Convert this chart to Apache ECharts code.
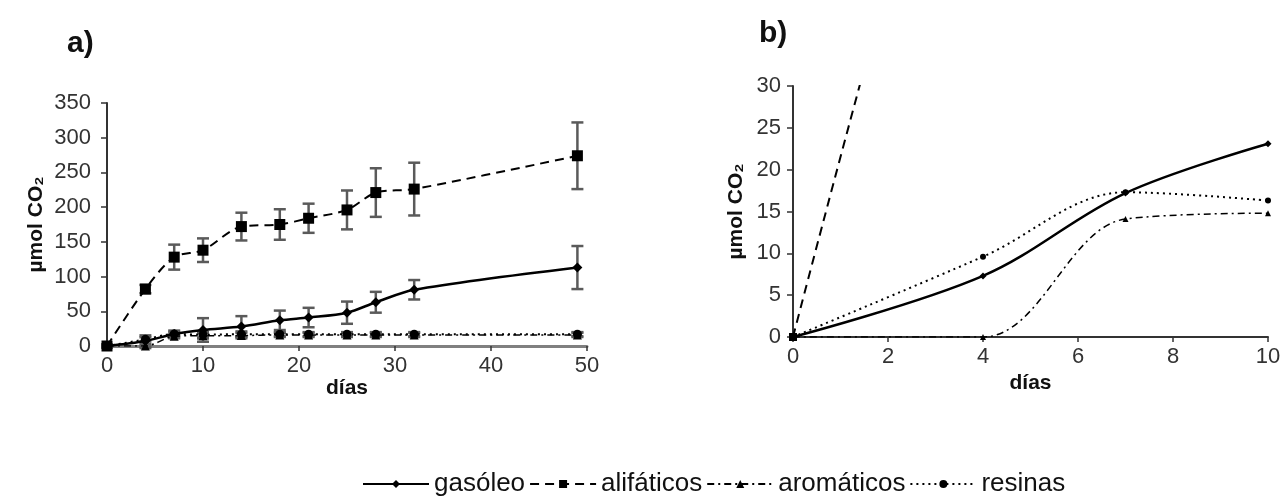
<!DOCTYPE html>
<html>
<head>
<meta charset="utf-8">
<script src="https://cdn.jsdelivr.net/npm/echarts@6/dist/echarts.min.js"></script>
<style>
html,body{margin:0;padding:0;background:#fff}
#main{width:1284px;height:496px}
</style>
</head>
<body>
<div id="main"></div>
<script>
// days sampled, panel a
const diasA = [0, 4, 7, 10, 14, 18, 21, 25, 28, 32, 49]
const gasoleoA = [0, 7.3, 17.2, 23.1, 28, 37, 41, 48, 63, 81, 113]
const gasoleoErr = [2, 8, 5, 17, 15, 14, 14, 16, 15, 14, 31]
const alifaticosA = [0, 82, 128, 138, 172, 175, 184, 196, 221, 226, 274]
const alifaticosErr = [2, 6, 18, 17, 20, 22, 21, 28, 35, 38, 48]
const aromaticosA = [0, 0, 14.1, 14.8, 15, 16, 16, 16, 16, 16, 16]
const aromaticosErr = [0, 3, 3, 4, 4, 3, 3, 3, 3, 3, 3]
const resinasA = [0, 9.6, 17.3, 16.3, 17, 17, 17, 17, 17, 17, 17]
const resinasErr = [0, 3, 3, 4, 4, 3, 3, 3, 3, 3, 3]

// panel b, first 10 days
const diasB = [0, 4, 7, 10]
const gasoleoB = [0, 7.3, 17.2, 23.1]
const alifaticosB = [0, 82, 128, 138]
const aromaticosB = [0, 0, 14.1, 14.8]
const resinasB = [0, 9.6, 17.3, 16.3]

const nombres = ['gasóleo', 'alifáticos', 'aromáticos', 'resinas']

function pares(x, y){
	const out = []
	for(let i = 0 ; i < x.length ; i ++){
		out.push([x[i], y[i]])
	}
	return out
}

function barras(x, y, e){
	const out = []
	for(let i = 0 ; i < x.length ; i ++){
		if(e[i] > 0) out.push([x[i], y[i] - e[i], y[i] + e[i]])
	}
	return out
}

function errorItem(params, api){
	const x = api.value(0)
	const lo = api.coord([x, api.value(1)])
	const hi = api.coord([x, api.value(2)])
	const w = 6
	const st = {stroke:'#5a5a5a', lineWidth:2.5}
	return {
		type:'group',
		children:[
			{type:'line', shape:{x1:lo[0], y1:lo[1], x2:hi[0], y2:hi[1]}, style:st},
			{type:'line', shape:{x1:lo[0] - w, y1:lo[1], x2:lo[0] + w, y2:lo[1]}, style:st},
			{type:'line', shape:{x1:hi[0] - w, y1:hi[1], x2:hi[0] + w, y2:hi[1]}, style:st}
		]
	}
}

const estilos = [
	{type:'solid', symbol:'diamond', size:10, width:2.5},
	{type:[9, 6], symbol:'rect', size:11, width:2},
	{type:[7, 4, 2, 4], symbol:'triangle', size:9, width:1.5},
	{type:[2, 4], symbol:'circle', size:9, width:2}
]

const datosA = [gasoleoA, alifaticosA, aromaticosA, resinasA]
const erroresA = [gasoleoErr, alifaticosErr, aromaticosErr, resinasErr]
const datosB = [gasoleoB, alifaticosB, aromaticosB, resinasB]

const series = []
for(let i = 0 ; i < 4 ; i ++){
	series.push({
		type:'custom',
		xAxisIndex:0,
		yAxisIndex:0,
		renderItem:errorItem,
		data:barras(diasA, datosA[i], erroresA[i]),
		z:1,
		silent:true
	})
}
for(let i = 0 ; i < 4 ; i ++){
	series.push({
		type:'line',
		name:nombres[i],
		xAxisIndex:0,
		yAxisIndex:0,
		smooth:0.3,
		symbol:estilos[i].symbol,
		symbolSize:estilos[i].size,
		itemStyle:{color:'#000'},
		lineStyle:{color:'#000', width:estilos[i].width, type:estilos[i].type},
		data:pares(diasA, datosA[i]),
		z:3
	})
	series.push({
		type:'line',
		name:nombres[i],
		xAxisIndex:1,
		yAxisIndex:1,
		smooth:0.35,
		clip:true,
		symbol:estilos[i].symbol,
		symbolSize:estilos[i].size - 3,
		itemStyle:{color:'#000'},
		lineStyle:{color:'#000', width:estilos[i].width, type:estilos[i].type},
		data:pares(diasB, datosB[i]),
		z:3
	})
}

const fuente = 'Liberation Sans, Arial, sans-serif'
const etiqueta = {color:'#333', fontSize:22, fontFamily:fuente}
const nombreEje = {color:'#111', fontSize:21, fontWeight:'bold', fontFamily:fuente}

const chart = echarts.init(document.getElementById('main'))
chart.setOption({
	animation:false,
	title:[
		{text:'a)', left:62, top:24, textStyle:{fontSize:30, fontWeight:'bold', color:'#111', fontFamily:fuente}},
		{text:'b)', left:754, top:14, textStyle:{fontSize:30, fontWeight:'bold', color:'#111', fontFamily:fuente}}
	],
	legend:{
		data:nombres,
		top:466,
		left:357,
		itemWidth:66,
		itemHeight:10,
		itemGap:4,
		textStyle:{fontSize:26, color:'#111', fontFamily:fuente}
	},
	grid:[
		{left:107, top:103, width:480, height:243},
		{left:793, top:86, width:475, height:251}
	],
	xAxis:[
		{
			gridIndex:0, type:'value', min:0, max:50, interval:10,
			name:'días', nameLocation:'middle', nameGap:32, nameTextStyle:nombreEje,
			axisLine:{lineStyle:{color:'#808080', width:3}},
			axisTick:{show:true, length:5, lineStyle:{color:'#333', width:1.5}},
			axisLabel:Object.assign({margin:9}, etiqueta),
			splitLine:{show:false}
		},
		{
			gridIndex:1, type:'value', min:0, max:10, interval:2,
			name:'días', nameLocation:'middle', nameGap:33, nameTextStyle:nombreEje,
			axisLine:{lineStyle:{color:'#333', width:2}},
			axisTick:{show:true, length:5, lineStyle:{color:'#333', width:1.5}},
			axisLabel:Object.assign({margin:9}, etiqueta),
			splitLine:{show:false}
		}
	],
	yAxis:[
		{
			gridIndex:0, type:'value', min:0, max:350, interval:50,
			name:'µmol CO₂', nameLocation:'middle', nameRotate:90, nameGap:60, nameTextStyle:nombreEje,
			axisLine:{show:true, lineStyle:{color:'#333', width:2}},
			axisTick:{show:true, length:6, lineStyle:{color:'#333', width:1.5}},
			axisLabel:Object.assign({margin:16}, etiqueta),
			splitLine:{show:false}
		},
		{
			gridIndex:1, type:'value', min:0, max:30, interval:5,
			name:'µmol CO₂', nameLocation:'middle', nameRotate:90, nameGap:46, nameTextStyle:nombreEje,
			axisLine:{show:true, lineStyle:{color:'#333', width:2}},
			axisTick:{show:true, length:6, lineStyle:{color:'#333', width:1.5}},
			axisLabel:Object.assign({margin:12}, etiqueta),
			splitLine:{show:false}
		}
	],
	series:series
})
</script>
</body>
</html>
